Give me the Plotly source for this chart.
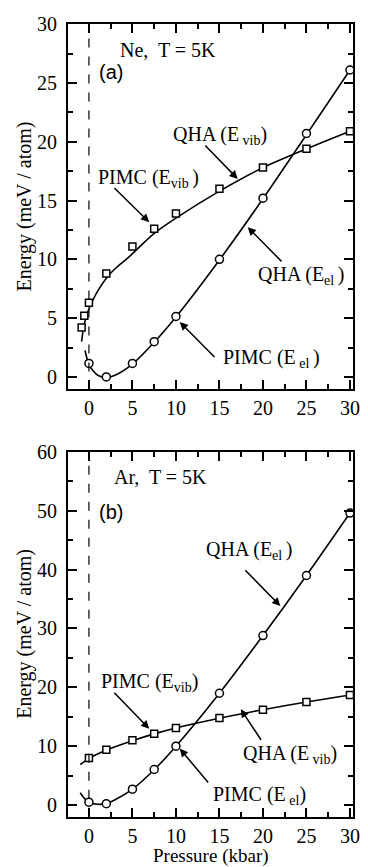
import plotly.graph_objects as go

# ---------------- data ----------------
# Ne panel (a)
ne_pimc_vib_p = [-0.84, -0.53, 0, 2, 5, 7.5, 10, 15, 20, 25, 30]
ne_pimc_vib_e = [4.2, 5.2, 6.3, 8.8, 11.1, 12.6, 13.9, 16.0, 17.8, 19.4, 20.9]
ne_pimc_el_p = [0, 2, 5, 7.5, 10, 15, 20, 25, 30]
ne_pimc_el_e = [1.15, 0.0, 1.15, 3.0, 5.15, 10.0, 15.2, 20.7, 26.1]
ne_qha_vib_p = [-0.84, -0.6, -0.3, 0, 0.5, 1, 2, 3, 4.45, 7.5, 10, 15, 20, 25, 30]
ne_qha_vib_e = [3.0, 4.3, 5.1, 5.8, 6.6, 7.3, 8.4, 9.2, 10.1, 12.2, 13.5, 15.8, 17.8, 19.4, 20.9]
ne_qha_el_p = [-0.45, 0, 0.5, 1, 2, 3, 5, 7.5, 10, 15, 20, 25, 30]
ne_qha_el_e = [2.25, 1.05, 0.5, 0.15, -0.05, 0.15, 1.1, 2.95, 5.1, 9.95, 15.15, 20.6, 26.1]

# Ar panel (b)
ar_pimc_vib_p = [0, 2, 5, 7.5, 10, 15, 20, 25, 30]
ar_pimc_vib_e = [8.0, 9.4, 11.0, 12.1, 13.1, 14.8, 16.2, 17.5, 18.7]
ar_pimc_el_p = [0, 2, 5, 7.5, 10, 15, 20, 25, 30]
ar_pimc_el_e = [0.5, 0.25, 2.7, 6.05, 10.0, 19.0, 28.8, 39.0, 49.6]
ar_qha_vib_p = [-1.0, 0, 2, 5, 7.5, 10, 15, 20, 25, 30]
ar_qha_vib_e = [6.9, 7.9, 9.35, 10.95, 12.1, 13.1, 14.75, 16.2, 17.5, 18.7]
ar_qha_el_p = [-1.0, -0.5, 0, 1, 2, 3, 5, 7.5, 10, 15, 20, 25, 30]
ar_qha_el_e = [2.1, 1.1, 0.5, 0.15, 0.25, 0.9, 2.7, 6.0, 10.0, 19.0, 28.8, 39.0, 49.6]

x_ticks = [0, 5, 10, 15, 20, 25, 30]
ne_y_ticks = [0, 5, 10, 15, 20, 25, 30]
ar_y_ticks = [0, 10, 20, 30, 40, 50, 60]

# ---------------- figure ----------------
SERIF = "'Liberation Serif', 'DejaVu Serif', serif"
SANS = "'Liberation Sans', Arial, sans-serif"
BLACK = "black"

fig = go.Figure()

def add_panel(xa, ya, qv_p, qv_e, qe_p, qe_e, pv_p, pv_e, pe_p, pe_e):
    fig.add_trace(go.Scatter(x=qv_p, y=qv_e, mode="lines", line=dict(color=BLACK, width=1.6, shape="spline", smoothing=0.8),
                             xaxis=xa, yaxis=ya, showlegend=False, hoverinfo="skip"))
    fig.add_trace(go.Scatter(x=qe_p, y=qe_e, mode="lines", line=dict(color=BLACK, width=1.6, shape="spline", smoothing=0.8),
                             xaxis=xa, yaxis=ya, showlegend=False, hoverinfo="skip"))
    fig.add_trace(go.Scatter(x=pv_p, y=pv_e, mode="markers",
                             marker=dict(symbol="square", size=7, color="white", line=dict(color=BLACK, width=1.5)),
                             xaxis=xa, yaxis=ya, showlegend=False))
    fig.add_trace(go.Scatter(x=pe_p, y=pe_e, mode="markers",
                             marker=dict(symbol="circle", size=8, color="white", line=dict(color=BLACK, width=1.5)),
                             xaxis=xa, yaxis=ya, showlegend=False))

add_panel("x", "y", ne_qha_vib_p, ne_qha_vib_e, ne_qha_el_p, ne_qha_el_e,
          ne_pimc_vib_p, ne_pimc_vib_e, ne_pimc_el_p, ne_pimc_el_e)
add_panel("x2", "y2", ar_qha_vib_p, ar_qha_vib_e, ar_qha_el_p, ar_qha_el_e,
          ar_pimc_vib_p, ar_pimc_vib_e, ar_pimc_el_p, ar_pimc_el_e)

xdom = [69 / 368, 359.3 / 368]
top_dom = [1 - 383.3 / 867, 1 - 13.3 / 867]
bot_dom = [1 - 816 / 867, 1 - 446.5 / 867]

def axis_common(**kw):
    d = dict(showline=True, linecolor=BLACK, linewidth=2, mirror="allticks",
             ticks="inside", ticklen=9, tickwidth=1.5, tickcolor=BLACK,
             showgrid=False, zeroline=False,
             tickfont=dict(family=SERIF, size=20, color=BLACK))
    d.update(kw)
    return d

fig.update_layout(
    width=368, height=867,
    margin=dict(l=0, r=0, t=0, b=0),
    paper_bgcolor="white", plot_bgcolor="white",
    showlegend=False,
    font=dict(family=SERIF, size=20, color=BLACK),
    xaxis=axis_common(domain=xdom, range=[-2.42, 30.4], tickvals=x_ticks, anchor="y",
                      minor=dict(ticks="inside", ticklen=5, tickwidth=1.5, dtick=2.5, tick0=0, tickcolor=BLACK),
                      ticklabelstandoff=0),
    yaxis=axis_common(domain=top_dom, range=[-1.06, 30], tickvals=ne_y_ticks, anchor="x",
                      minor=dict(ticks="inside", ticklen=5, tickwidth=1.5, dtick=2.5, tick0=0, tickcolor=BLACK),
                      ticklabelstandoff=5),
    xaxis2=axis_common(domain=xdom, range=[-2.42, 30.4], tickvals=x_ticks, anchor="y2",
                       minor=dict(ticks="inside", ticklen=5, tickwidth=1.5, dtick=2.5, tick0=0, tickcolor=BLACK),
                       ticklabelstandoff=0),
    yaxis2=axis_common(domain=bot_dom, range=[-1.96, 60], tickvals=ar_y_ticks, anchor="x2",
                       minor=dict(ticks="inside", ticklen=5, tickwidth=1.5, dtick=5, tick0=0, tickcolor=BLACK),
                       ticklabelstandoff=5),
)

# dashed zero-pressure lines
for xr, yr in (("x", "y domain"), ("x2", "y2 domain")):
    fig.add_shape(type="line", xref=xr, yref=yr, x0=0, x1=0, y0=0, y1=1,
                  line=dict(color=BLACK, width=1.2, dash="dash"))

def txt(xr, yr, x, y, text, family=SERIF, size=20):
    fig.add_annotation(xref=xr, yref=yr, x=x, y=y, text=text, showarrow=False,
                       xanchor="center", yanchor="middle",
                       font=dict(family=family, size=size, color=BLACK))

def arrow(xr, yr, tail, head):
    fig.add_annotation(xref=xr, yref=yr, axref=xr, ayref=yr, x=head[0], y=head[1],
                       ax=tail[0], ay=tail[1], text="", showarrow=True,
                       arrowhead=2, arrowsize=1.1, arrowwidth=1.5, arrowcolor=BLACK, standoff=0)

# panel (a) labels
txt("x", "y", 9.05, 27.77, "Ne,  T = 5K")
txt("x", "y", 2.58, 25.9, "(a)", family=SANS)
txt("x", "y", 15.1, 20.55, "QHA (E<sub> vib</sub>)")
txt("x", "y", 6.88, 16.85, "PIMC (E<sub>vib </sub>)")
txt("x", "y", 24.4, 8.6, "QHA (E<sub>el </sub>)")
txt("x", "y", 21.0, 1.57, "PIMC (E<sub> el </sub>)")
arrow("x", "y", (13.2, 19.8), (17.1, 16.84))
arrow("x", "y", (2.75, 16.2), (6.93, 13.16))
arrow("x", "y", (22.3, 9.7), (18.25, 12.74))
arrow("x", "y", (14.6, 1.57), (10.44, 4.68))

# panel (b) labels
txt("x2", "y2", 8.18, 55.8, "Ar,  T = 5K")
txt("x2", "y2", 2.58, 49.7, "(b)", family=SANS)
txt("x2", "y2", 18.4, 43.2, "QHA (E<sub>el </sub>)")
txt("x2", "y2", 7.0, 20.85, "PIMC (E<sub>vib</sub>)")
txt("x2", "y2", 23.1, 8.6, "QHA (E<sub> vib</sub>)")
txt("x2", "y2", 19.6, 1.56, "PIMC (E<sub> el</sub>)")
arrow("x2", "y2", (17.8, 40.15), (22.0, 33.8))
arrow("x2", "y2", (2.75, 19.35), (6.93, 12.97))
arrow("x2", "y2", (19.9, 10.8), (17.45, 16.3))
arrow("x2", "y2", (13.85, 3.57), (10.44, 9.6))

# axis titles
for yc in ((top_dom[0] + top_dom[1]) / 2, (bot_dom[0] + bot_dom[1]) / 2):
    fig.add_annotation(xref="paper", yref="paper", x=25 / 368, y=yc, text="Energy (meV / atom)",
                       textangle=-90, showarrow=False, xanchor="center", yanchor="middle",
                       font=dict(family=SERIF, size=20, color=BLACK))
fig.add_annotation(xref="paper", yref="paper", x=(69 + 359.3) / 2 / 368, y=1 - 856 / 867,
                   text="Pressure (kbar)", showarrow=False, xanchor="center", yanchor="middle",
                   font=dict(family=SERIF, size=19, color=BLACK))

fig.write_html("out.html")
